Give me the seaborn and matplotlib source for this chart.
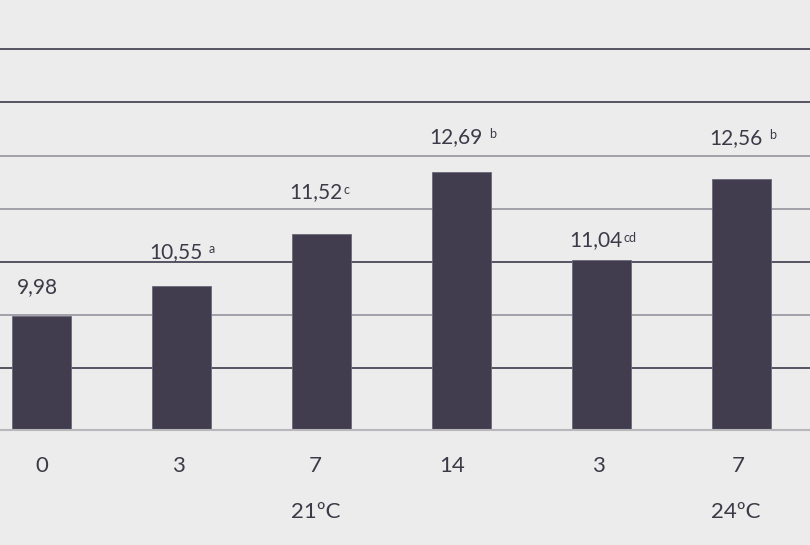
import matplotlib
matplotlib.use("Agg")
import matplotlib.pyplot as plt
import matplotlib.transforms as mtransforms
import seaborn as sns
import pandas as pd

# data
days = ["0", "3", "7", "14", "3", "7"]
values = [9.98, 10.55, 11.52, 12.69, 11.04, 12.56]
value_text = ["9,98", "10,55", "11,52", "12,69", "11,04", "12,56"]
letters = ["", "a", "c", "b", "cd", "b"]
groups = ["21ºC", "24ºC"]
group_at = [2, 5]

bg = "#ececec"
bar_col = "#413d4f"
txt_col = "#3d3a48"

sns.set_theme(style="white")
plt.rcParams["font.family"] = ["Lato", "DejaVu Sans"]

df = pd.DataFrame({"slot": [str(i) for i in range(len(values))], "value": values})

fig = plt.figure(figsize=(8.1, 5.45), dpi=100, facecolor=bg)
ax = fig.add_axes([0, 115 / 545, 1, 430 / 545])
ax.set_facecolor(bg)

# gridlines (alternating dark / grey like the original)
grid_vals = [9, 10, 11, 12, 13, 14, 15]
grid_cols = ["#4a4858", "#9c9ba3", "#4a4858", "#9c9ba3", "#9c9ba3", "#4a4858", "#4a4858"]
for g, c in zip(grid_vals, grid_cols):
    ax.axhline(g, color=c, lw=1.3, zorder=0)

sns.barplot(data=df, x="slot", y="value", color=bar_col, width=0.42,
            saturation=1, ax=ax, zorder=2, edgecolor="#6a6778", linewidth=0.6)

ax.set_xlim(-0.296, 5.489)
ax.set_ylim(7.83, 15.93)
ax.set_xlabel("")
ax.set_ylabel("")
ax.set_yticks([])
for s in ["top", "left", "right"]:
    ax.spines[s].set_visible(False)
ax.spines["bottom"].set_color("#b8b8bc")
ax.spines["bottom"].set_linewidth(1.5)

ax.set_xticks(range(len(days)))
ax.set_xticklabels(days, fontsize=16, color=txt_col)
ax.tick_params(axis="x", length=0, pad=19)
# the original tick labels sit a little left of the bar centres
tick_shift = [0, -3, -6, -9, -3, -3]
for lab, sh in zip(ax.get_xticklabels(), tick_shift):
    lab.set_transform(lab.get_transform() + mtransforms.ScaledTranslation(sh / 100, 0, fig.dpi_scale_trans))

# value labels with superscript letters
gaps = [23, 28, 36, 29, 13, 35]  # px above bar top, as in the original
for i, (v, t, sup, gap) in enumerate(zip(values, value_text, letters, gaps)):
    dx = -3 if sup == "" else -4
    num = ax.annotate(t, xy=(i, v), xytext=(dx, gap * 0.72), textcoords="offset points",
                      ha="center", va="baseline", fontsize=15, color=txt_col)
    if sup:
        sp = 1 if len(sup) > 1 or sup == "c" else 4.5
        ax.annotate(sup, xy=(1, 1), xycoords=num, xytext=(sp, -1),
                    textcoords="offset points", ha="left", va="top",
                    fontsize=9, color=txt_col)

# temperature group labels
for g, pos in zip(groups, group_at):
    ax.annotate(g, xy=(pos, 0), xycoords=("data", "axes fraction"),
                xytext=(-4, -59), textcoords="offset points",
                ha="center", va="center", fontsize=16, color=txt_col)

fig.savefig("out.png", dpi=100, facecolor=bg)
